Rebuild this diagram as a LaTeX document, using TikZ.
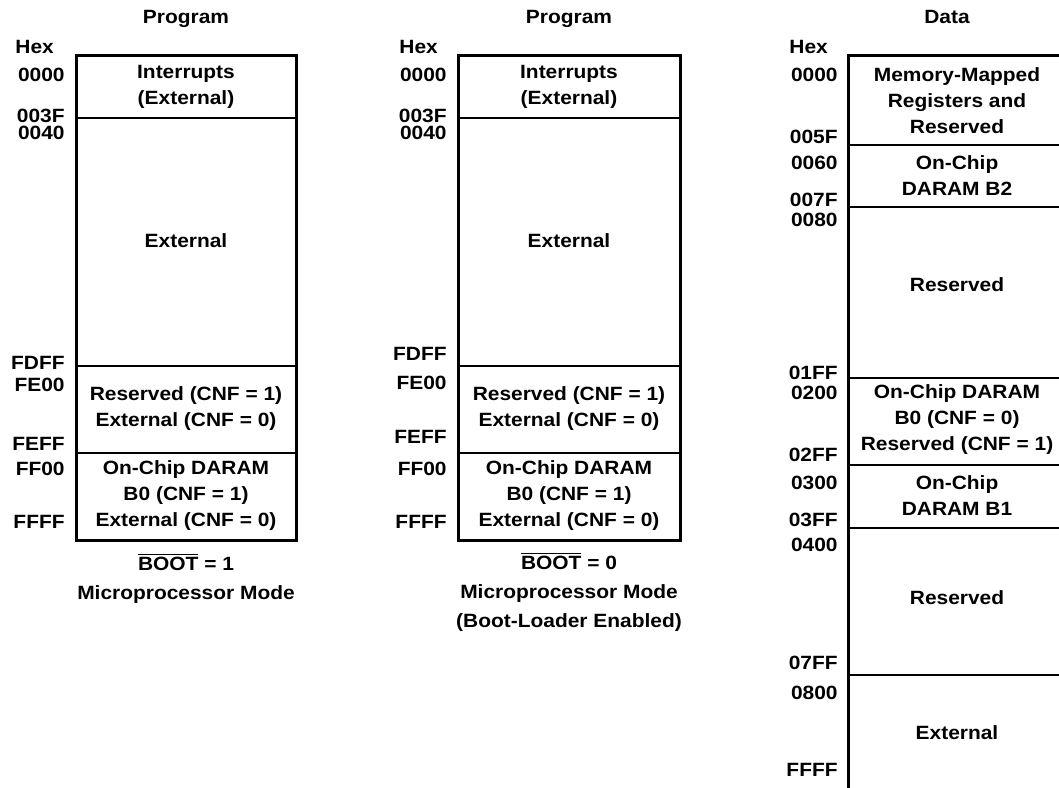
\documentclass[tikz,border=0pt]{standalone}
\usepackage{fontspec}
\setmainfont{Liberation Sans}[FakeStretch=1.09]
\begin{document}
\begin{tikzpicture}[x=0.5pt, y=-0.5pt,
    txt/.style={font=\bfseries\fontsize{9.6}{13}\selectfont, inner sep=0pt, align=center},
    addr/.style={txt, anchor=east},
    hexhead/.style={txt, anchor=west},
    ttl/.style={txt, anchor=base},
    mode/.style={txt, font=\bfseries\fontsize{9.6}{14.5}\selectfont},
    frame/.style={line width=1.5pt},
    divider/.style={line width=0.75pt}]
  \useasboundingbox (0,0) rectangle (1059,787);
  \clip (0,0) rectangle (1059,787);

  % Program map, BOOT = 1
  \node[ttl] at (186, 24) (p1title) {Program};
  \node[hexhead] at (15, 47) (p1hex) {Hex};
  \draw[frame] (76, 55) rectangle (296, 540);
  \draw[divider] (76, 118) -- (296, 118);
  \draw[divider] (76, 366) -- (296, 366);
  \draw[divider] (76, 453) -- (296, 453);
  \node[addr] at (65, 75) (p1a) {0000};
  \node[addr] at (65, 116) (p1b) {003F};
  \node[addr] at (65, 133) (p1c) {0040};
  \node[addr] at (65, 363) (p1d) {FDFF};
  \node[addr] at (65, 385) (p1e) {FE00};
  \node[addr] at (65, 444) (p1f) {FEFF};
  \node[addr] at (65, 469) (p1g) {FF00};
  \node[addr] at (65, 522) (p1h) {FFFF};
  \node[txt] at (186, 87) (p1int) {Interrupts\\(External)};
  \node[txt] at (186, 241) (p1ext) {External};
  \node[txt] at (186, 409) (p1res) {Reserved (CNF = 1)\\External (CNF = 0)};
  \node[txt] at (186, 496) (p1daram) {On-Chip DARAM\\B0 (CNF = 1)\\External (CNF = 0)};
  \node[mode] at (186, 578) (p1mode) {$\overline{\mbox{BOOT}}$ = 1\\Microprocessor Mode};

  % Program map, BOOT = 0
  \node[ttl] at (569, 24) (p2title) {Program};
  \node[hexhead] at (399, 47) (p2hex) {Hex};
  \draw[frame] (458, 55) rectangle (680, 540);
  \draw[divider] (458, 118) -- (680, 118);
  \draw[divider] (458, 366) -- (680, 366);
  \draw[divider] (458, 453) -- (680, 453);
  \node[addr] at (447, 75) (p2a) {0000};
  \node[addr] at (447, 116) (p2b) {003F};
  \node[addr] at (447, 133) (p2c) {0040};
  \node[addr] at (447, 354) (p2d) {FDFF};
  \node[addr] at (447, 383) (p2e) {FE00};
  \node[addr] at (447, 437) (p2f) {FEFF};
  \node[addr] at (447, 469) (p2g) {FF00};
  \node[addr] at (447, 522) (p2h) {FFFF};
  \node[txt] at (569, 87) (p2int) {Interrupts\\(External)};
  \node[txt] at (569, 241) (p2ext) {External};
  \node[txt] at (569, 409) (p2res) {Reserved (CNF = 1)\\External (CNF = 0)};
  \node[txt] at (569, 496) (p2daram) {On-Chip DARAM\\B0 (CNF = 1)\\External (CNF = 0)};
  \node[mode] at (569, 592) (p2mode) {$\overline{\mbox{BOOT}}$ = 0\\Microprocessor Mode\\(Boot-Loader Enabled)};

  % Data map
  \node[ttl] at (947, 24) (dtitle) {Data};
  \node[hexhead] at (789, 47) (dhex) {Hex};
  \draw[frame] (848, 55) rectangle (1066, 800);
  \draw[divider] (848, 145) -- (1066, 145);
  \draw[divider] (848, 207) -- (1066, 207);
  \draw[divider] (848, 378) -- (1066, 378);
  \draw[divider] (848, 465) -- (1066, 465);
  \draw[divider] (848, 528) -- (1066, 528);
  \draw[divider] (848, 675) -- (1066, 675);
  \node[addr] at (838, 75) (da) {0000};
  \node[addr] at (838, 137) (db) {005F};
  \node[addr] at (838, 163) (dc) {0060};
  \node[addr] at (838, 200) (dd) {007F};
  \node[addr] at (838, 220) (de) {0080};
  \node[addr] at (838, 373) (df) {01FF};
  \node[addr] at (838, 393) (dg) {0200};
  \node[addr] at (838, 455) (dh) {02FF};
  \node[addr] at (838, 483) (di) {0300};
  \node[addr] at (838, 520) (dj) {03FF};
  \node[addr] at (838, 545) (dk) {0400};
  \node[addr] at (838, 663) (dl) {07FF};
  \node[addr] at (838, 693) (dm) {0800};
  \node[addr] at (838, 770) (dn) {FFFF};
  \node[txt] at (957, 101) (dmmr) {Memory-Mapped\\Registers and\\Reserved};
  \node[txt] at (957, 176) (db2) {On-Chip\\DARAM B2};
  \node[txt] at (957, 285) (dres1) {Reserved};
  \node[txt] at (957, 420) (db0) {On-Chip DARAM\\B0 (CNF = 0)\\Reserved (CNF = 1)};
  \node[txt] at (957, 496) (db1) {On-Chip\\DARAM B1};
  \node[txt] at (957, 598) (dres2) {Reserved};
  \node[txt] at (957, 733) (dext) {External};
\end{tikzpicture}
\end{document}
